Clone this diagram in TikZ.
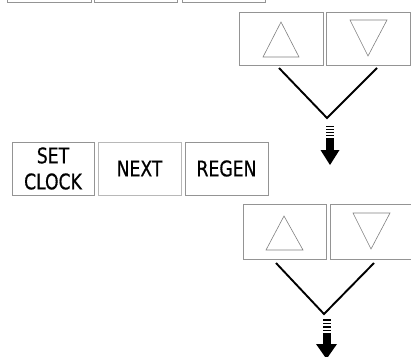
\documentclass[tikz,border=0pt]{standalone}
\usepackage{fontspec}
\setmainfont{DejaVu Sans Condensed}[FakeStretch=0.89,FakeBold=0.6]
\begin{document}
\begin{tikzpicture}[x=1pt,y=-1pt,
  btn/.style={draw=black!42,line width=0.8pt,inner sep=0pt,align=center,font=\fontsize{21.5}{26}\selectfont},
  tri/.style={draw=black!50,line width=0.6pt},
  vline/.style={draw=black,line width=1.9pt},
  arr/.style={fill=black,draw=none}]
\useasboundingbox (0,0) rectangle (411,356);
% top row (cut off)
\node[btn,minimum width=84pt,minimum height=53pt] (t1) at (49,-24.5) {};
\node[btn,minimum width=83pt,minimum height=53pt] (t2) at (135.5,-24.5) {};
\node[btn,minimum width=83pt,minimum height=53pt] (t3) at (223.5,-24.5) {};
% upper arrow buttons
\node[btn,minimum width=84pt,minimum height=53pt] (up1) at (281,38.5) {};
\node[btn,minimum width=84pt,minimum height=53pt] (dn1) at (368,38.5) {};
\draw[tri] (263,57) -- (281,22) -- (299,57) -- cycle;
\draw[tri] (350,20) -- (387,20) -- (368,56) -- cycle;
\coordinate (a1) at (327,118);
\draw[vline] (279,68) -- (a1) -- (377,68);
% upper arrow
\foreach \yy in {125.5,128.5,131.5,134.5}
  \fill[arr] (326,\yy) rectangle (334,\yy+1.6);
\fill[arr] (326,137.5) rectangle (334,150.5);
\fill[arr] (320.5,150) -- (339.5,150) -- (330,165) -- cycle;
% second row
\node[btn,minimum width=82pt,minimum height=53pt] (set) at (53,168.5) {SET\\CLOCK};
\node[btn,draw=black!28,minimum width=83pt,minimum height=53pt] (next) at (139.5,168.5) {NEXT};
\node[btn,minimum width=83pt,minimum height=53pt] (regen) at (226.5,168.5) {REGEN};
% lower arrow buttons
\node[btn,minimum width=83pt,minimum height=55pt] (up2) at (284.5,231.5) {};
\node[btn,minimum width=82pt,minimum height=55pt] (dn2) at (371,231.5) {};
\draw[tri] (266,250) -- (284,216) -- (303,250) -- cycle;
\draw[tri] (353,213) -- (390,213) -- (371,249) -- cycle;
\coordinate (a2) at (324,314);
\draw[vline] (276,263) -- (a2) -- (374,263);
% lower arrow
\foreach \yy in {319,322.5,326,329.5}
  \fill[arr] (322.5,\yy) rectangle (330.5,\yy+1.6);
\fill[arr] (322.5,333) rectangle (330.5,344.5);
\fill[arr] (316,344) -- (337,344) -- (326.5,359) -- cycle;
\end{tikzpicture}
\end{document}
